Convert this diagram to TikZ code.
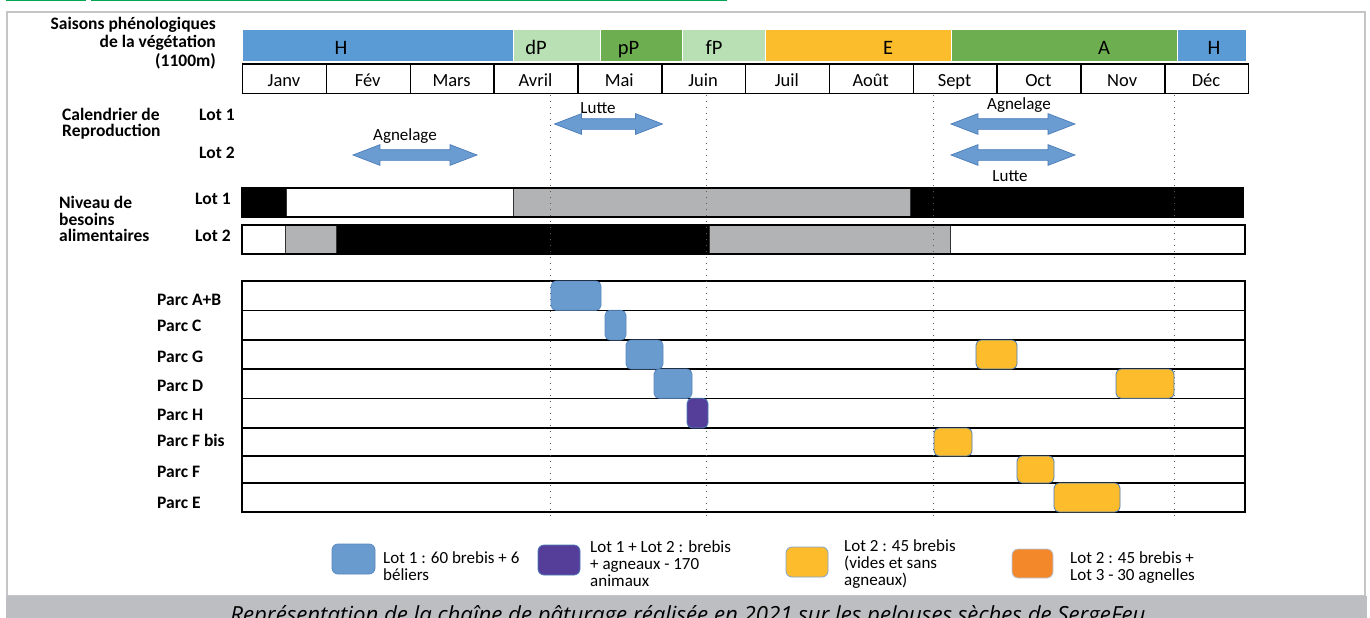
\documentclass[tikz,border=0pt]{standalone}
\usepackage{fontspec}
\setmainfont{Carlito}
\newfontfamily\legendefont{Open Sans}
\usetikzlibrary{positioning}
\usetikzlibrary{shapes.arrows}
\usetikzlibrary{arrows.meta}
\definecolor{hiver}{HTML}{5B9BD5}
\definecolor{printemps}{HTML}{B9DFB5}
\definecolor{pleinprint}{HTML}{6DAF50}
\definecolor{ete}{HTML}{FCBD2C}
\definecolor{besoin}{HTML}{B2B3B5}
\definecolor{lotun}{HTML}{6A9BCE}
\definecolor{lotunbord}{HTML}{5A88C0}
\definecolor{lotdeux}{HTML}{FCBC2B}
\definecolor{lotmix}{HTML}{553D9A}
\definecolor{lottrois}{HTML}{F3882B}
\definecolor{fleche}{HTML}{6B9CD1}
\definecolor{flechebord}{HTML}{4A7CB9}
\definecolor{cadre}{HTML}{C5C5C7}
\definecolor{bande}{HTML}{BDBEC1}
\definecolor{vert}{HTML}{00A651}

\tikzset{
	saison/.style={font=\fontsize{20.5}{24}\selectfont, inner sep=0pt, anchor=base},
	mois/.style={draw, line width=1.4pt, minimum width=83.83pt, minimum height=29pt, inner sep=0pt, anchor=north west},
	moislabel/.style={font=\fontsize{18.5}{22}\selectfont, inner sep=0pt, anchor=base},
	etiq/.style={font=\bfseries\fontsize{17.5}{18.5}\selectfont, inner sep=0pt},
	flechebleue/.style={double arrow, fill=fleche, draw=flechebord, line width=0.7pt, inner sep=5pt, double arrow head extend=5pt, double arrow tip angle=42, minimum height=124pt},
	flechelabel/.style={font=\fontsize{17}{18}\selectfont, inner sep=0pt, anchor=base},
	bloc/.style={rounded corners=5pt, line width=0.8pt},
	legende/.style={font=\fontsize{17}{17}\selectfont, inner sep=0pt, align=left, anchor=base west},
	repere/.style={black!65, line width=0.8pt, dash pattern=on 1.2pt off 4.8pt}
}

\begin{document}
\begin{tikzpicture}[x=1pt, y=-1pt, >=Latex]
	\useasboundingbox (0,0) rectangle (1370,618);
	\fill[white] (0,0) rectangle (1370,618);
	%\draw[step=100,gray,very thin] (0,0) grid (1370,618);
	% cadre et bandeau du bas
	\draw[vert, line width=2.5pt] (6,0) -- (86,0) (91,0) -- (727,0);
	\draw[cadre, line width=2pt] (7,12) rectangle (1365,596);
	\fill[bande] (6,596) rectangle (1367,619);
	\node[font=\legendefont\itshape\fontsize{22.2}{26}\selectfont, anchor=base, text=black, inner sep=0pt] (titre) at (688,622) {Représentation de la chaîne de pâturage réalisée en 2021 sur les pelouses sèches de SergeFeu};

	% saisons
	\foreach \a/\b/\c/\t/\lx [count=\i] in {242.7/513.3/hiver/H/341, 513.3/600.7/printemps/dP/536, 600.7/682.7/pleinprint/pP/628.5, 682.7/765.3/printemps/fP/714, 765.3/951/ete/E/888, 951/1177.7/pleinprint/A/1104, 1177.7/1246.7/hiver/H/1214}{
		\filldraw[fill=\c, draw=white, line width=0.8pt] (\a,29.3) rectangle (\b,61.7);
		\node[saison] (s\i) at (\lx,55) {\t};
	}
	% mois
	\foreach \m [count=\i from 0] in {Janv,Fév,Mars,Avril,Mai,Juin,Juil,Août,Sept,Oct,Nov,Déc}{
		\node[mois] (m\i) at (242+83.83*\i,63.5) {};
		\node[moislabel] (t\i) at (283.9+83.83*\i,86.5) {\m};
	}

	\node[etiq, align=right, anchor=base east] (saisons) at (216,66.3) {Saisons phénologiques\\de la végétation\\(1100m)};
	\node[etiq, font=\bfseries\fontsize{17.5}{16.5}\selectfont, align=left, anchor=base west] (calendrier) at (62,136.7) {Calendrier de\\Reproduction};
	\node[etiq, font=\bfseries\fontsize{17.5}{16.5}\selectfont, align=left, anchor=base west] (niveau) at (59,241.7) {Niveau de\\besoins\\alimentaires};
	\node[etiq, anchor=base west] (reprolotun) at (199,120.5) {Lot 1};
	\node[etiq, anchor=base west] (reprolotdeux) at (199,158.3) {Lot 2};
	\node[etiq, anchor=base west] (besoinlotun) at (195,204) {Lot 1};
	\node[etiq, anchor=base west] (besoinlotdeux) at (195,241.7) {Lot 2};

	% reproduction
	\node[flechebleue, minimum height=108pt] (lutteun) at (608.5,124) {};
	\node[flechebleue] (agnelagedeux) at (415,155) {};
	\node[flechebleue] (agnelageun) at (1013,124) {};
	\node[flechebleue] (luttedeux) at (1013,155) {};
	\node[flechelabel] (lutteunlab) at (598,113.3) {Lutte};
	\node[flechelabel] (agnelagedeuxlab) at (405,140) {Agnelage};
	\node[flechelabel] (agnelageunlab) at (1019,109.3) {Agnelage};
	\node[flechelabel] (luttedeuxlab) at (1010,181.7) {Lutte};

	% besoins alimentaires
	\foreach \a/\b/\c in {242/286/black, 286/513/white, 513/910/besoin, 910/1243/black}
		\filldraw[fill=\c, draw=black!80, line width=1pt] (\a,188) rectangle (\b,217);
	\foreach \a/\b/\c in {242/285/white, 285/336/besoin, 336/709/black, 709/950/besoin, 950/1245/white}
		\filldraw[fill=\c, draw=black!80, line width=1pt] (\a,225) rectangle (\b,254);
	\draw[line width=1.3pt] (242,188) rectangle (1243,217);
	\draw[line width=1.3pt] (242,225) rectangle (1245,254);

	% parcs
	\foreach \a/\b/\nom/\base [count=\i] in {281/310.3/Parc A+B/305, 310.3/340/Parc C/331, 340/369/Parc G/362, 369/398.3/Parc D/391.5, 398.3/428/Parc H/420, 428/456/Parc F bis/446.5, 456/483/Parc F/477, 483/512/Parc E/508}{
		\draw[line width=1.1pt] (242,\a) rectangle (1245,\b);
		\node[etiq, anchor=base west] (parc\i) at (157,\base) {\nom};
	}
	\foreach \x in {550.5,706,933,1174}
		\draw[repere] (\x,95) -- (\x,516);
	\foreach \a/\b/\c/\d/\f/\g in {551/281/601/310.3/lotun/lotunbord, 605/310.3/626/340/lotun/lotunbord, 626/340/663/369/lotun/lotunbord, 654/369/692/398.3/lotun/lotunbord, 687/398.3/708/428/lotmix/flechebord, 976/340/1017/369/lotdeux/flechebord, 1116/369/1174/398.3/lotdeux/flechebord, 934/428/972/456/lotdeux/flechebord, 1017/456/1054/483/lotdeux/flechebord, 1054/483/1120/512/lotdeux/flechebord}
		\filldraw[bloc, fill=\f, draw=\g] (\a,\b) rectangle (\c,\d);

	% legende
	\filldraw[bloc, rounded corners=6pt, fill=lotun, draw=lotunbord] (332,544) rectangle (375,574);
	\filldraw[bloc, rounded corners=6pt, fill=lotmix, draw=flechebord] (538,545) rectangle (580,575);
	\filldraw[bloc, rounded corners=6pt, fill=lotdeux, draw=flechebord!70] (786,547) rectangle (828,577);
	\filldraw[bloc, rounded corners=6pt, fill=lottrois, draw=flechebord!40] (1012,549) rectangle (1053,578);
	\node[legende] (legun) at (383,580.3) {Lot 1 : 60 brebis + 6\\béliers};
	\node[legende] (legmix) at (590,586.5) {Lot 1 + Lot 2 : brebis\\+ agneaux - 170\\animaux};
	\node[legende] (legdeux) at (844,585.5) {Lot 2 : 45 brebis\\(vides et sans\\agneaux)};
	\node[legende] (legtrois) at (1070,580) {Lot 2 : 45 brebis +\\Lot 3 - 30 agnelles};
\end{tikzpicture}
\end{document}
